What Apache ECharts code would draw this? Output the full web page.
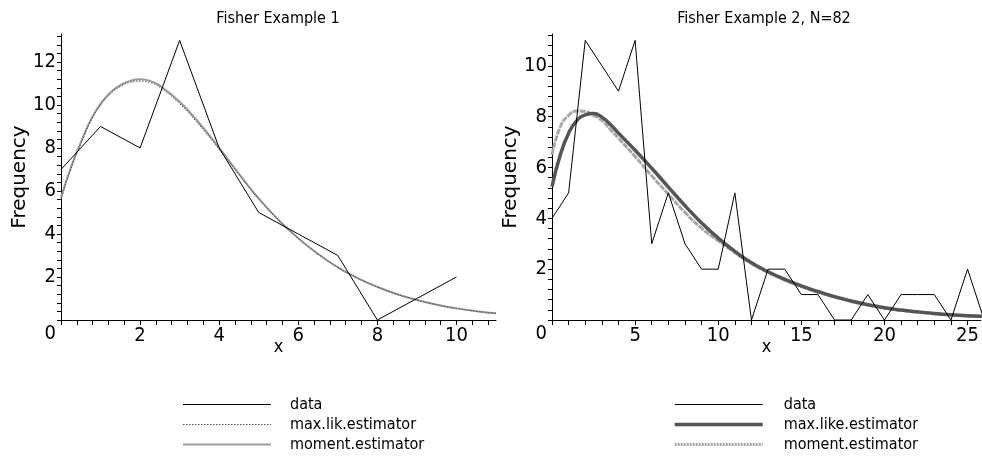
<!DOCTYPE html>
<html>
<head>
<meta charset="utf-8">
<script src="https://cdn.jsdelivr.net/npm/echarts@6/dist/echarts.min.js"></script>
<style>
  html, body { margin: 0; padding: 0; background: #fff; }
  #chart { width: 982px; height: 475px; }
</style>
</head>
<body>
<div id="chart"></div>
<script>
// Fisher example 1: observed counts
var leftX = [0, 1, 2, 3, 4, 5, 6, 7, 8, 9, 10];
var leftData = [7, 9, 8, 13, 8, 5, 4, 3, 0, 1, 2];

// fitted curves
var leftCurveX = [0, 0.25, 0.5, 0.75, 1, 1.25, 1.5, 1.75, 2, 2.25, 2.5, 3, 3.5, 4, 4.5,
                  5, 5.5, 6, 6.5, 7, 7.5, 8, 8.5, 9, 9.5, 10, 10.5, 11];
var leftMoment = [5.7, 7.1, 8.25, 9.3, 10.05, 10.58, 10.92, 11.12, 11.19, 11.12, 10.9, 10.15, 9.15, 8.0, 6.8,
                  5.65, 4.65, 3.8, 3.07, 2.45, 1.95, 1.54, 1.2, 0.93, 0.71, 0.54, 0.41, 0.31];
var leftML = [5.6, 7.02, 8.18, 9.24, 10.0, 10.52, 10.86, 11.05, 11.11, 11.04, 10.82, 10.06, 9.06, 7.93, 6.76,
              5.63, 4.65, 3.8, 3.07, 2.45, 1.95, 1.54, 1.2, 0.93, 0.71, 0.54, 0.41, 0.31];

// Fisher example 2, N=82
var rightX = [0, 1, 2, 3, 4, 5, 6, 7, 8, 9, 10, 11, 12, 13, 14, 15, 16, 17, 18, 19, 20,
              21, 22, 23, 24, 25, 26];
var rightData = [4, 5, 11, 10, 9, 11, 3, 5, 3, 2, 2, 5, 0, 2, 2, 1, 1, 0, 0, 1, 0,
                 1, 1, 1, 0, 2, 0];

var rightCurveX = [0, 0.5, 1, 1.5, 2, 2.5, 3, 3.5, 4, 5, 6, 7, 8, 9, 10, 11, 12, 13, 14, 15,
                   16, 17, 18, 19, 20, 21, 22, 23, 24, 25, 26];
var rightML = [5.25, 6.5, 7.35, 7.85, 8.07, 8.12, 7.98, 7.7, 7.35, 6.68, 5.97, 5.23, 4.5, 3.82, 3.22, 2.7,
               2.25, 1.9, 1.6, 1.34, 1.12, 0.92, 0.75, 0.6, 0.48, 0.39, 0.32, 0.26, 0.21, 0.17, 0.14];
var rightMoment = [6.5, 7.6, 8.05, 8.22, 8.2, 8.05, 7.85, 7.5, 7.15, 6.43, 5.67, 4.95, 4.23, 3.61, 3.12, 2.65,
                   2.22, 1.87, 1.57, 1.31, 1.09, 0.9, 0.73, 0.59, 0.47, 0.38, 0.31, 0.25, 0.2, 0.16, 0.13];

var titles = ['Fisher Example 1', 'Fisher Example 2, N=82'];

var NARROW = '"Liberation Sans Narrow", "DejaVu Sans Condensed", "Arial Narrow", sans-serif';

function pairs(xs, ys) {
    var out = [];
    for (var i = 0; i < xs.length; i++) {
        out.push([xs[i], ys[i]]);
    }
    return out;
}

function isMultiple(v, step) {
    var r = v / step;
    return Math.abs(r - Math.round(r)) < 1e-6;
}

function xAxisFor(idx, max, interval, labelStep) {
    return {
        type: 'value', gridIndex: idx, min: 0, max: max, interval: interval,
        name: 'x', nameLocation: 'middle', nameGap: 18, nameMoveOverlap: false,
        nameTextStyle: { fontFamily: NARROW, fontSize: 18, color: '#000' },
        axisLine: { show: true, lineStyle: { color: '#000', width: 1 } },
        axisTick: { show: true, length: 5, lineStyle: { color: '#000' } },
        splitLine: { show: false },
        axisLabel: {
            margin: 6, fontFamily: NARROW, fontSize: 20, color: '#000',
            showMaxLabel: false,
            formatter: function (v) {
                if (v === 0 || !isMultiple(v, labelStep)) return '';
                return String(v);
            }
        }
    };
}

function yAxisFor(idx, max) {
    return {
        type: 'value', gridIndex: idx, min: 0, max: max, interval: 0.4,
        name: 'Frequency', nameLocation: 'middle', nameRotate: 90, nameGap: 31, nameMoveOverlap: false,
        nameTextStyle: { fontFamily: '"DejaVu Sans", sans-serif', fontSize: 20, color: '#000' },
        axisLine: { show: true, lineStyle: { color: '#000', width: 1 } },
        axisTick: { show: true, length: 4, lineStyle: { color: '#000' } },
        splitLine: { show: false },
        axisLabel: {
            margin: 5, fontFamily: NARROW, fontSize: 20, color: '#000',
            showMaxLabel: false,
            formatter: function (v) {
                if (v === 0) return '{z|0}';
                if (!isMultiple(v, 2)) return '';
                return String(v);
            },
            rich: {
                z: { fontFamily: NARROW, fontSize: 20, color: '#000', padding: [28, 0, 0, 0] }
            }
        }
    };
}

function legendFor(left, pad, items) {
    return {
        left: left, top: 390, orient: 'vertical', selectedMode: false,
        itemWidth: 88, itemHeight: 19, itemGap: 1,
        itemStyle: { opacity: 0 },
        textStyle: { fontFamily: NARROW, fontSize: 16, lineHeight: 19, color: '#000', padding: [0, 0, 0, pad] },
        data: items
    };
}

var chartDom = document.getElementById('chart');
var myChart = echarts.init(chartDom, null, { renderer: 'canvas' });
var option;

option = {
    animation: false,
    backgroundColor: '#fff',
    title: [
        { text: titles[0], left: 273, top: 6, textAlign: 'center',
          textStyle: { fontFamily: NARROW, fontSize: 16, fontWeight: 'normal', color: '#000' } },
        { text: titles[1], left: 759, top: 6, textAlign: 'center',
          textStyle: { fontFamily: NARROW, fontSize: 16, fontWeight: 'normal', color: '#000' } }
    ],
    grid: [
        { left: 61, top: 34, width: 435, height: 286 },
        { left: 552, top: 34, width: 430, height: 286 }
    ],
    xAxis: [
        xAxisFor(0, 11, 0.4, 2),
        xAxisFor(1, 25.8, 1, 5)
    ],
    yAxis: [
        yAxisFor(0, 13.3),
        yAxisFor(1, 11.25)
    ],
    legend: [
        legendFor(177, 14, [
            { name: 'data', lineStyle: { color: '#000', width: 1, type: 'solid' } },
            { name: 'max.lik.estimator', lineStyle: { color: '#555', width: 1, type: [1.5, 1.5] } },
            { name: 'moment.estimator', lineStyle: { color: '#9a9a9a', width: 2, type: 'solid' } }
        ]),
        legendFor(668, 16, [
            { name: 'data', lineStyle: { color: '#000', width: 1, type: 'solid' } },
            { name: 'max.like.estimator', lineStyle: { color: '#555', width: 3.5, type: 'solid' } },
            { name: 'moment.estimator', lineStyle: { color: '#a8a8a8', width: 3, type: [2, 1] } }
        ])
    ],
    series: [
        {
            name: 'moment.estimator', type: 'line', xAxisIndex: 0, yAxisIndex: 0,
            data: pairs(leftCurveX, leftMoment), smooth: 0.5,
            symbol: 'none', itemStyle: { opacity: 0 }, lineStyle: { color: '#9a9a9a', width: 2 }
        },
        {
            name: 'max.lik.estimator', type: 'line', xAxisIndex: 0, yAxisIndex: 0,
            data: pairs(leftCurveX, leftML), smooth: 0.5,
            symbol: 'none', itemStyle: { opacity: 0 }, lineStyle: { color: '#555', width: 1, type: [1.5, 1.5] }
        },
        {
            name: 'data', type: 'line', xAxisIndex: 0, yAxisIndex: 0,
            data: pairs(leftX, leftData),
            symbol: 'none', itemStyle: { opacity: 0 }, lineStyle: { color: '#000', width: 1 }
        },
        {
            name: 'moment.estimator', type: 'line', xAxisIndex: 1, yAxisIndex: 1,
            data: pairs(rightCurveX, rightMoment), smooth: 0.5,
            symbol: 'none', itemStyle: { opacity: 0 }, lineStyle: { color: '#a8a8a8', width: 3, type: [6, 1] }
        },
        {
            name: 'max.like.estimator', type: 'line', xAxisIndex: 1, yAxisIndex: 1,
            data: pairs(rightCurveX, rightML), smooth: 0.5,
            symbol: 'none', itemStyle: { opacity: 0 }, lineStyle: { color: '#555', width: 3.5 }
        },
        {
            name: 'data', type: 'line', xAxisIndex: 1, yAxisIndex: 1,
            data: pairs(rightX, rightData),
            symbol: 'none', itemStyle: { opacity: 0 }, lineStyle: { color: '#000', width: 1 }
        }
    ]
};

option && myChart.setOption(option);
</script>
</body>
</html>
